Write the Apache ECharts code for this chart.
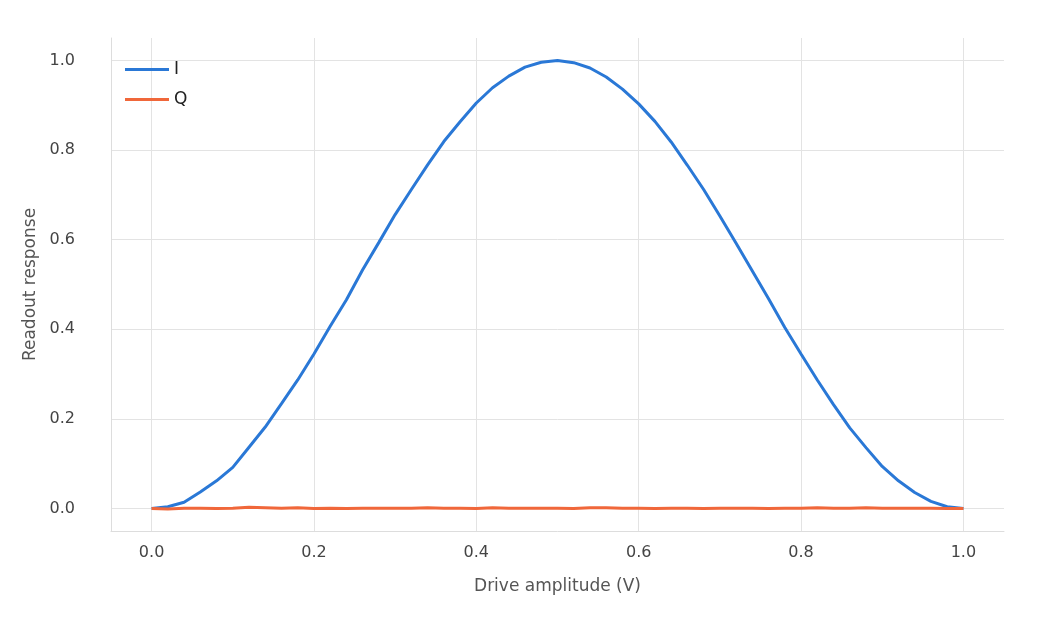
<!DOCTYPE html>
<html><head><meta charset="utf-8">
<script src="https://cdn.jsdelivr.net/npm/echarts@6/dist/echarts.min.js"></script>
<style>html,body{margin:0;background:#fff}#c{width:1043px;height:631px}</style>
</head><body><div id="c"></div>
<script>
const xs = [0,0.02,0.04,0.06,0.08,0.10,0.12,0.14,0.16,0.18,0.20,0.22,0.24,0.26,0.28,0.30,0.32,0.34,0.36,0.38,0.40,0.42,0.44,0.46,0.48,0.50,0.52,0.54,0.56,0.58,0.60,0.62,0.64,0.66,0.68,0.70,0.72,0.74,0.76,0.78,0.80,0.82,0.84,0.86,0.88,0.90,0.92,0.94,0.96,0.98,1.00];
const iVals = [0,0.004,0.014,0.037,0.062,0.092,0.137,0.182,0.234,0.287,0.345,0.407,0.466,0.533,0.594,0.656,0.712,0.767,0.819,0.863,0.905,0.939,0.965,0.985,0.996,1.0,0.995,0.983,0.963,0.936,0.903,0.864,0.818,0.766,0.712,0.653,0.592,0.530,0.468,0.404,0.345,0.287,0.232,0.180,0.136,0.094,0.062,0.036,0.016,0.004,0.0];
const qVals = [0,-0.001,0.001,0.001,0.000,0.001,0.003,0.002,0.001,0.002,0.000,0.001,0.000,0.001,0.001,0.001,0.001,0.002,0.001,0.001,0.000,0.002,0.001,0.001,0.001,0.001,0.000,0.002,0.002,0.001,0.001,0.000,0.001,0.001,0.000,0.001,0.001,0.001,0.000,0.001,0.001,0.002,0.001,0.001,0.002,0.001,0.001,0.001,0.001,0.000,0.000];
const ticks = [0,0.2,0.4,0.6,0.8,1.0];
const yTicks = [0,0.2,0.4,0.6,0.8,1.0];
const ch = echarts.init(document.getElementById('c'));
const txt = {color:'#444',fontSize:16,fontFamily:'DejaVu Sans'};
ch.setOption({
  animation:false,
  grid:{left:111,right:39,top:38,bottom:100},
  legend:{left:120,top:56,orient:'vertical',itemGap:13,itemWidth:44,itemHeight:3,
    textStyle:{color:'#222',fontSize:17,fontFamily:'DejaVu Sans'},
    data:[{name:'I',icon:'rect'},{name:'Q',icon:'rect'}]},
  xAxis:{type:'value',min:-0.05,max:1.05,
    name:'Drive amplitude (V)',nameLocation:'middle',nameGap:47,nameTextStyle:{...txt,fontSize:17,color:'#555'},
    axisLine:{show:true,onZero:false,lineStyle:{color:'#ddd'}},axisTick:{show:false,customValues:ticks},
    axisLabel:{...txt,margin:14,customValues:ticks,formatter:v=>v.toFixed(1)},
    splitLine:{show:true,lineStyle:{color:'#e3e3e3',width:1}}},
  yAxis:{type:'value',min:-0.05,max:1.05,
    name:'Readout response',nameLocation:'middle',nameGap:60,nameTextStyle:{...txt,fontSize:17,color:'#555'},
    axisLine:{show:true,onZero:false,lineStyle:{color:'#ddd'}},axisTick:{show:false,customValues:yTicks},
    axisLabel:{...txt,margin:36,customValues:yTicks,formatter:v=>v.toFixed(1)},
    splitLine:{show:true,lineStyle:{color:'#e3e3e3',width:1}}},
  series:[
    {name:'I',type:'line',showSymbol:false,color:'#2a78d6',lineStyle:{width:3},data:xs.map((x,i)=>[x,iVals[i]])},
    {name:'Q',type:'line',showSymbol:false,color:'#f0673a',lineStyle:{width:3},data:xs.map((x,i)=>[x,qVals[i]])}
  ]
});
</script></body></html>
